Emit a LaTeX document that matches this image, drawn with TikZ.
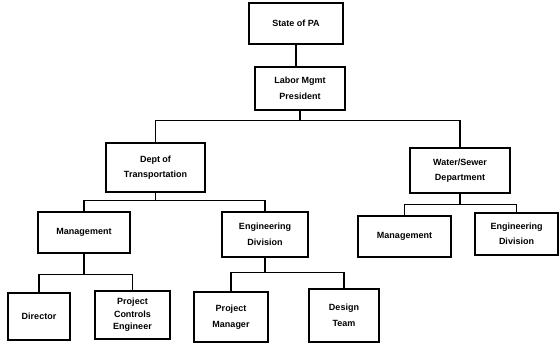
\documentclass[tikz,border=0pt]{standalone}
\usepackage{fontspec}
\setmainfont{Liberation Sans}

\begin{document}
\begin{tikzpicture}[
    x=1pt, y=-1pt,
    unit/.style={rectangle, draw, line width=1.5pt, inner sep=0pt, align=center, font=\fontsize{9}{15.5}\selectfont\bfseries},
    link/.style={line width=1.4pt}
]
\useasboundingbox (0,0) rectangle (560,343);

% State and president
\node[unit, minimum width=94pt, minimum height=41pt] (state) at (296,23.5) {State of PA};
\node[unit, minimum width=90pt, minimum height=43pt] (labor) at (300,88.5) {Labor Mgmt\\President};

% Departments
\node[unit, minimum width=99pt, minimum height=49pt] (dot) at (155.5,167.5) {Dept of\\Transportation};
\node[unit, minimum width=100pt, minimum height=45pt] (water) at (460,170.5) {Water/Sewer\\Department};

% Divisions
\node[unit, minimum width=92pt, minimum height=41pt] (mgmt) at (84,232.5) {Management};
\node[unit, minimum width=86pt, minimum height=45pt] (engdiv) at (265,234.5) {Engineering\\Division};
\node[unit, minimum width=93pt, minimum height=41pt] (wmgmt) at (404.5,236.5) {Management};
\node[unit, minimum width=83pt, minimum height=42pt] (wengdiv) at (516.5,234) {Engineering\\Division};

% Staff
\node[unit, minimum width=62pt, minimum height=47pt] (director) at (39,316.5) {Director};
\node[unit, minimum width=75pt, minimum height=48pt] (pce) at (132.5,315) {Project\\[-3pt]Controls\\[-3pt]Engineer};
\node[unit, minimum width=74pt, minimum height=50pt] (pm) at (231,317) {Project\\Manager};
\node[unit, minimum width=70pt, minimum height=53pt] (design) at (344,315.5) {Design\\Team};

% Connectors
\draw[link] (state) -- (state.south |- labor.north);
\draw[link] (labor.south) -- ++(0,10) -| (dot.north);
\draw[link] (labor.south) -- ++(0,10) -| (water.north);
\draw[link] (dot.south) -- ++(0,8) -| (mgmt.north);
\draw[link] (dot.south) -- ++(0,8) -| (engdiv.north);
\draw[link] (water.south) -- ++(0,11) -| (wmgmt.north);
\draw[link] (water.south) -- ++(0,11) -| (wengdiv.north);
\draw[link] (mgmt.south) -- ++(0,21) -| (director.north);
\draw[link] (mgmt.south) -- ++(0,21) -| (pce.north);
\draw[link] (engdiv.south) -- ++(0,15) -| (pm.north);
\draw[link] (engdiv.south) -- ++(0,15) -| (design.north);

\end{tikzpicture}
\end{document}
